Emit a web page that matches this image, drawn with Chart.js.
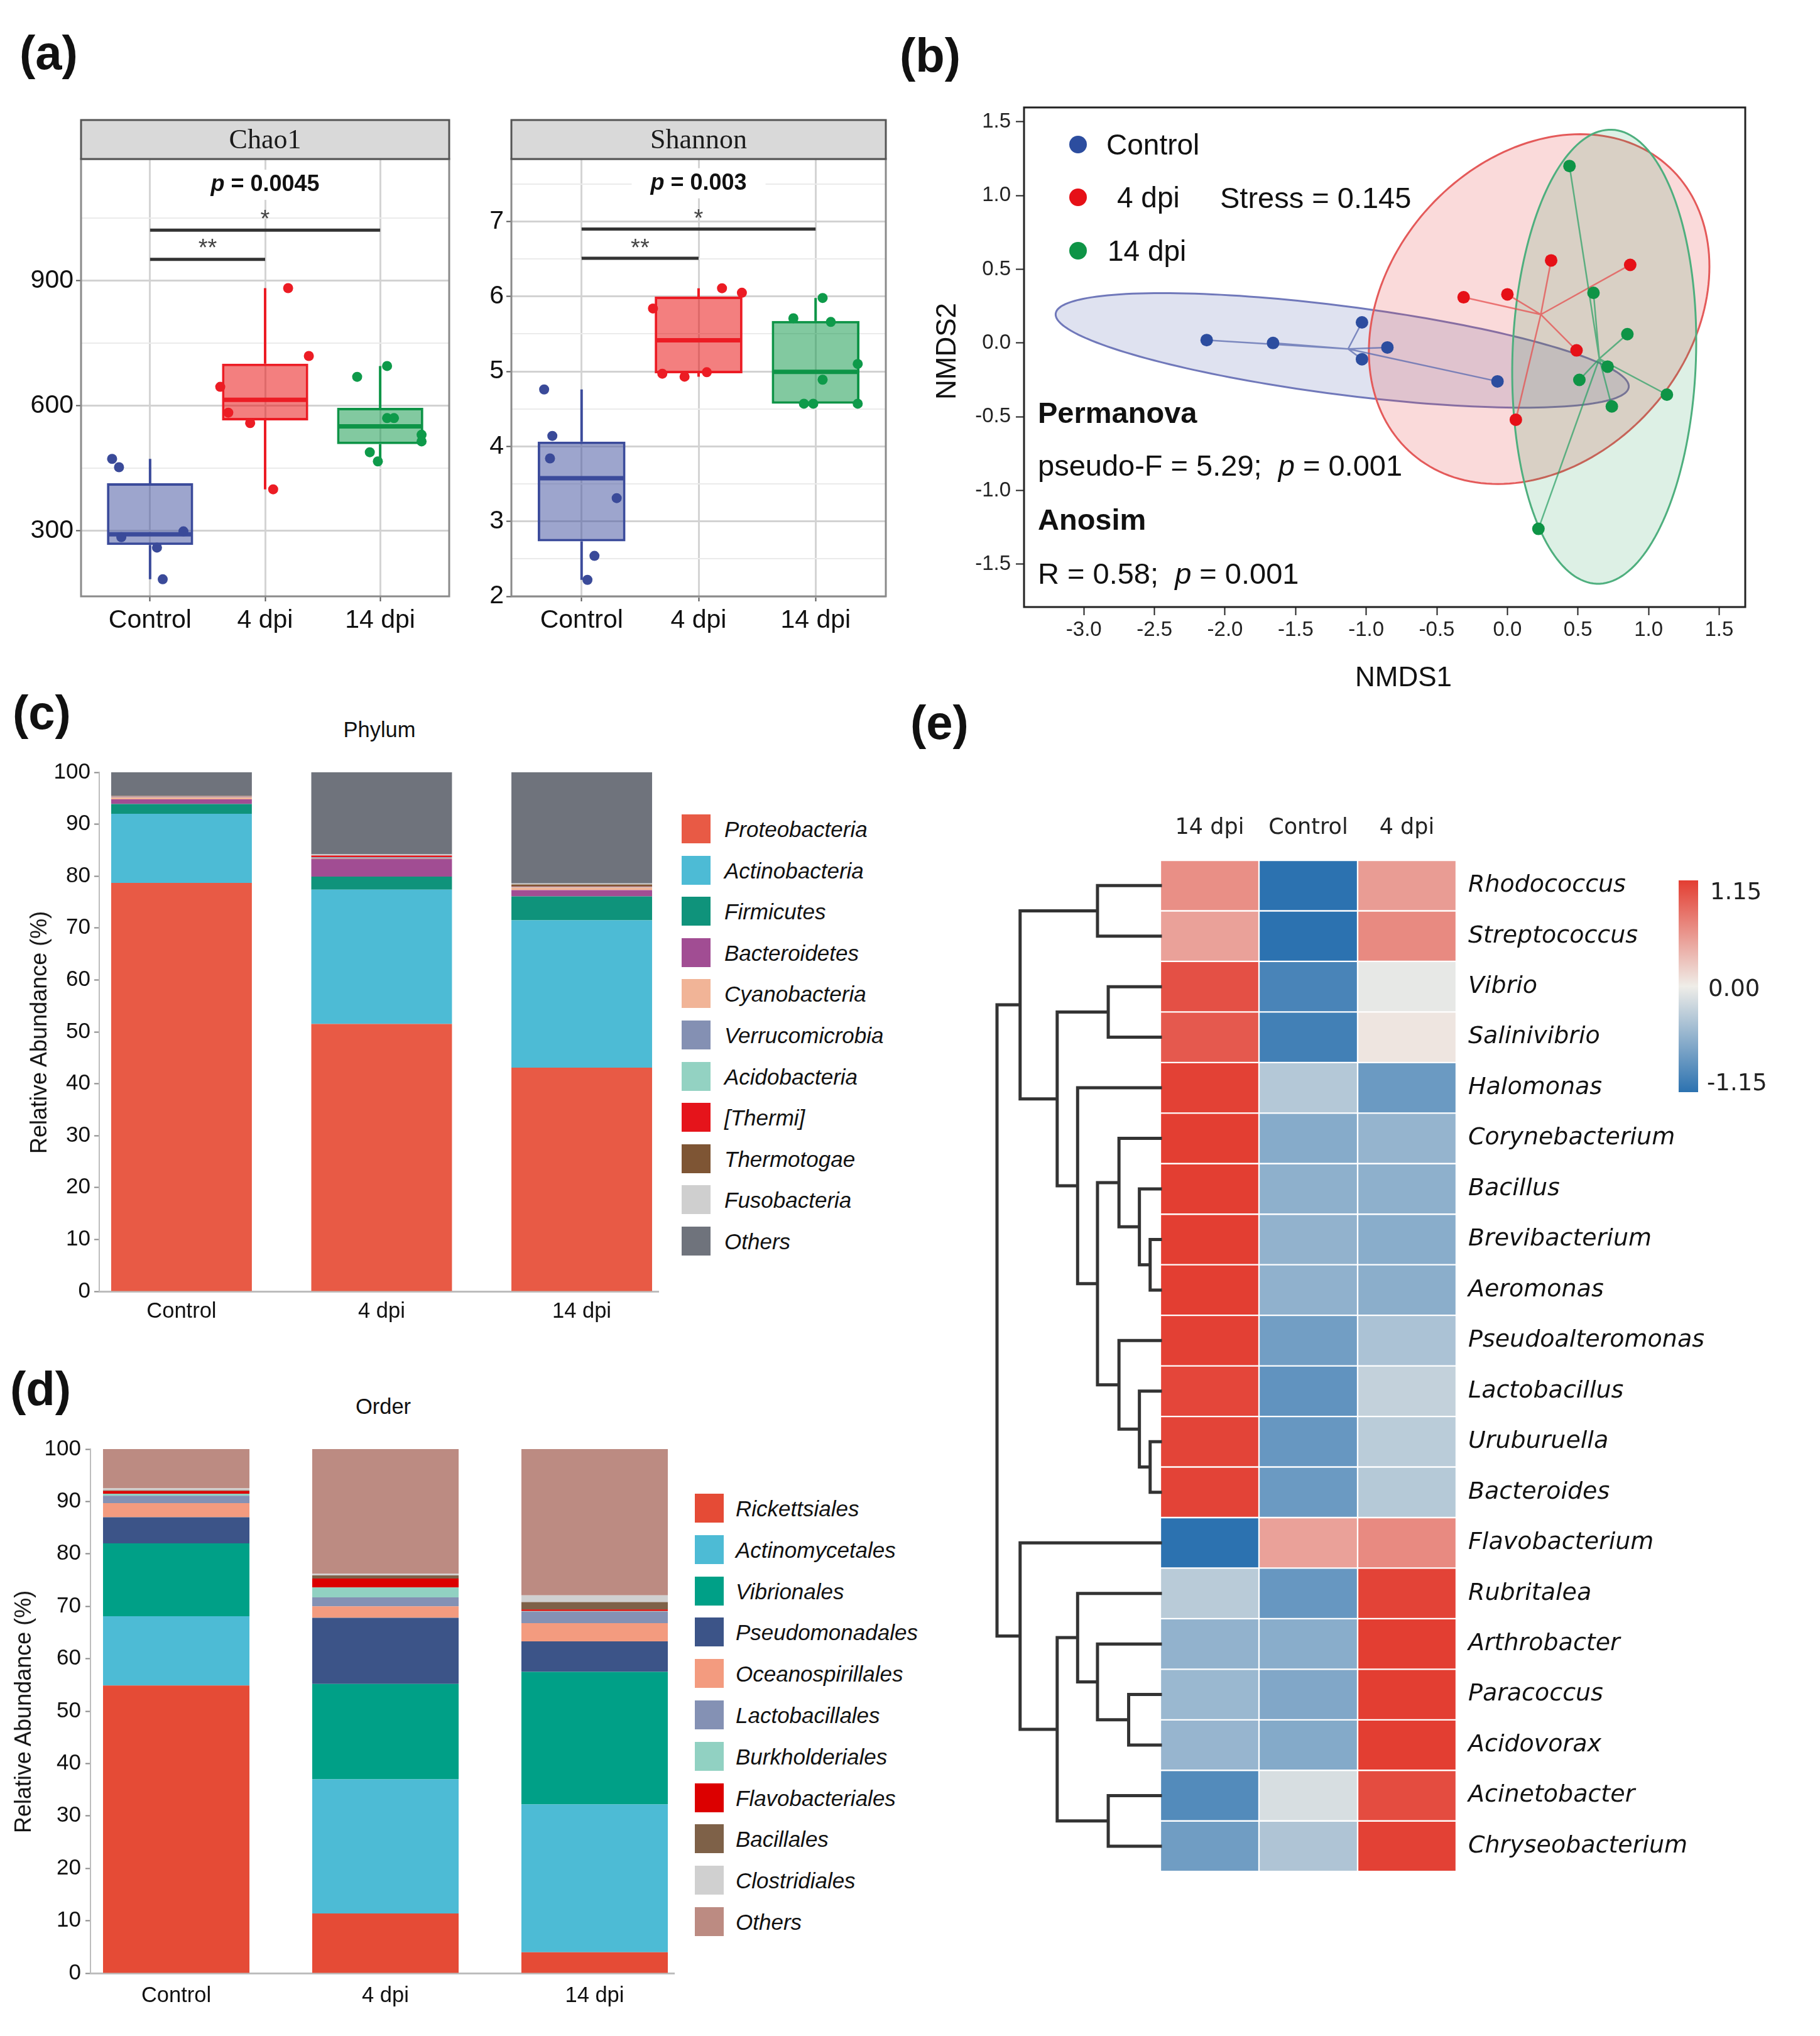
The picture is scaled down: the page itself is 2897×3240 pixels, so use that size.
<!DOCTYPE html>
<html>
<head>
<meta charset="utf-8">
<title>Diversity and composition</title>
<script src="https://cdn.jsdelivr.net/npm/chart.js@4.4.1/dist/chart.umd.min.js"></script>
<style>
  html, body { margin: 0; padding: 0; background: #fff; }
  body { position: relative; width: 2897px; height: 3240px; overflow: hidden; font-family: "Liberation Sans", Arial, sans-serif; color: #111; }
  canvas { position: absolute; }
  .t { position: absolute; white-space: nowrap; line-height: 1; }
</style>
</head>
<body>
<canvas id="chao1"></canvas>
<canvas id="shannon"></canvas>
<canvas id="nmds"></canvas>
<canvas id="phylum"></canvas>
<canvas id="order"></canvas>
<canvas id="heat"></canvas>
<script>
const groups = ["Control", "4 dpi", "14 dpi"];

// (a) alpha diversity per sample
const chao1Control = [472, 452, 284, 259, 183, 298];
const chao1Dpi4 = [882, 719, 645, 583, 558, 399];
const chao1Dpi14 = [669, 695, 570, 570, 530, 514, 488, 466];
const shannonControl = [4.76, 4.14, 3.84, 3.31, 2.54, 2.22];
const shannonDpi4 = [6.11, 6.05, 5.84, 4.97, 4.93, 4.99];
const shannonDpi14 = [5.98, 5.71, 5.66, 5.10, 4.89, 4.57, 4.57, 4.57];
const chao1Ticks = [300, 450, 600, 750, 900, 1050];
const shannonTicks = [2, 2.5, 3, 3.5, 4, 4.5, 5, 5.5, 6, 6.5, 7, 7.5];

// (b) NMDS scores
const nmdsControlX = [-2.13, -1.66, -1.03, -0.85, -1.03, -0.07];
const nmdsControlY = [0.02, 0.00, 0.14, -0.03, -0.11, -0.26];
const nmds4dpiX = [-0.31, 0.00, 0.31, 0.87, 0.49, 0.06];
const nmds4dpiY = [0.31, 0.33, 0.56, 0.53, -0.05, -0.52];
const nmds14dpiX = [0.44, 0.61, 0.85, 0.71, 0.51, 1.13, 0.74, 0.22];
const nmds14dpiY = [1.20, 0.34, 0.06, -0.16, -0.25, -0.35, -0.43, -1.26];
const nmdsXTicks = [-3.0, -2.5, -2.0, -1.5, -1.0, -0.5, 0.0, 0.5, 1.0, 1.5];
const nmdsYTicks = [-1.5, -1.0, -0.5, 0.0, 0.5, 1.0, 1.5];
// group ellipses: centre, semi-axes, rotation (degrees, data units)
const ellipseCx = [-1.17, 0.225, 0.686];
const ellipseCy = [-0.05, 0.23, -0.093];
const ellipseA = [2.045, 1.334, 1.54];
const ellipseB = [0.30, 1.04, 0.65];
const ellipseDeg = [-7, 43, 88];

// (c) phylum relative abundance (%)
const phylumNames = ["Proteobacteria", "Actinobacteria", "Firmicutes", "Bacteroidetes", "Cyanobacteria", "Verrucomicrobia", "Acidobacteria", "[Thermi]", "Thermotogae", "Fusobacteria", "Others"];
const phylumControl = [78.7, 13.3, 1.9, 0.9, 0.4, 0.1, 0.05, 0.05, 0.05, 0.05, 4.5];
const phylum4dpi = [51.5, 25.9, 2.5, 3.4, 0.1, 0.2, 0.05, 0.3, 0.05, 0.2, 15.8];
const phylum14dpi = [43.1, 28.4, 4.6, 1.2, 0.5, 0.1, 0.05, 0.05, 0.4, 0.2, 21.4];

// (d) order relative abundance (%)
const orderNames = ["Rickettsiales", "Actinomycetales", "Vibrionales", "Pseudomonadales", "Oceanospirillales", "Lactobacillales", "Burkholderiales", "Flavobacteriales", "Bacillales", "Clostridiales", "Others"];
const orderControl = [54.9, 13.2, 13.9, 5.0, 2.7, 1.4, 0.4, 0.5, 0.15, 0.35, 7.5];
const order4dpi = [11.4, 25.6, 18.2, 12.6, 2.2, 1.7, 1.9, 1.7, 0.6, 0.3, 23.8];
const order14dpi = [4.0, 28.2, 25.3, 5.8, 3.5, 2.2, 0.1, 0.3, 1.4, 1.3, 27.9];
const abundanceTicks = [0, 10, 20, 30, 40, 50, 60, 70, 80, 90, 100];

// (e) row-scaled abundance of genera
const genera = ["Rhodococcus", "Streptococcus", "Vibrio", "Salinivibrio", "Halomonas", "Corynebacterium", "Bacillus", "Brevibacterium", "Aeromonas", "Pseudoalteromonas", "Lactobacillus", "Uruburuella", "Bacteroides", "Flavobacterium", "Rubritalea", "Arthrobacter", "Paracoccus", "Acidovorax", "Acinetobacter", "Chryseobacterium"];
const heatCols = ["14 dpi", "Control", "4 dpi"];
const z14dpi = [0.62, 0.50, 1.03, 0.97, 1.13, 1.15, 1.15, 1.15, 1.15, 1.14, 1.10, 1.11, 1.12, -1.15, -0.32, -0.55, -0.50, -0.52, -0.92, -0.75];
const zControl = [-1.15, -1.15, -0.98, -1.02, -0.35, -0.62, -0.575, -0.55, -0.56, -0.74, -0.84, -0.80, -0.78, 0.50, -0.80, -0.60, -0.65, -0.63, -0.14, -0.38];
const z4dpi = [0.53, 0.65, -0.05, 0.05, -0.78, -0.53, -0.575, -0.60, -0.59, -0.40, -0.26, -0.31, -0.34, 0.65, 1.12, 1.15, 1.15, 1.15, 1.06, 1.13];
const zLimit = 1.15;
// row dendrogram, hclust style (negative = leaf row, positive = earlier merge)
const dendroMerge = [[-8, -9], [-12, -13], [-7, 1], [-11, 2], [-17, -18], [-6, 3], [-10, 4], [-3, -4], [-19, -20], [-1, -2], [6, 7], [-16, 5], [-5, 11], [-15, 12], [8, 13], [14, 9], [10, 15], [-14, 16], [17, 18]];
const dendroHeight = [19, 19, 39, 39, 59, 77, 77, 97, 97, 117, 117, 117, 154, 154, 192, 192, 261, 261, 304];

// jitter of the points in (a)
const chao1Jitter = [
  [-0.33, -0.27, -0.25, 0.06, 0.11, 0.29],
  [0.20, 0.38, -0.39, -0.32, -0.13, 0.07],
  [-0.20, 0.06, 0.06, 0.12, 0.36, 0.36, -0.09, -0.02]
];
const shannonJitter = [
  [-0.32, -0.25, -0.27, 0.30, 0.11, 0.05],
  [0.20, 0.37, -0.39, -0.31, -0.12, 0.07],
  [0.06, -0.19, 0.13, 0.36, 0.06, -0.10, -0.02, 0.36]
];

Chart.defaults.font.family = '"Liberation Sans", Arial, sans-serif';
Chart.defaults.color = "#111";

const boxFill = ["rgba(60,76,156,0.5)", "rgba(232,0,0,0.5)", "rgba(5,147,65,0.5)"];
const boxLine = ["#3B4B9B", "#EC1C24", "#0E9447"];
const dotColor = ["#3A4A99", "#EC1C24", "#0E9A4A"];
const nmdsColor = ["#2C4D9F", "#E61017", "#0E9446"];
const ellipseFill = ["rgba(42,62,155,0.15)", "rgba(230,70,70,0.2)", "rgba(28,155,82,0.15)"];
const ellipseLine = ["#7078BA", "#E45A5A", "#4EAF7E"];
const spiderColor = ["rgba(90,105,175,0.75)", "rgba(230,80,80,0.75)", "rgba(40,160,100,0.7)"];
const phylumColors = ["#E85A45", "#4DBBD5", "#0F937B", "#A14D93", "#F1B497", "#8490B3", "#93D2C2", "#E5141B", "#7E5534", "#CFCFCF", "#6F737C"];
const orderColors = ["#E54B36", "#4DBBD5", "#00A087", "#3C5488", "#F39B7F", "#8491B4", "#91D1C2", "#DC0000", "#7E6148", "#D0D0D0", "#BC8B82"];

function place(canvas, r) {
  canvas.width = r.w; canvas.height = r.h;
  canvas.style.left = r.x + "px"; canvas.style.top = r.y + "px";
  canvas.style.width = r.w + "px"; canvas.style.height = r.h + "px";
}

function text(html, x, y, css, anchor, rotate) {
  const d = document.createElement("div");
  d.className = "t";
  d.innerHTML = html;
  d.style.left = x + "px";
  d.style.top = y + "px";
  Object.assign(d.style, css || {});
  const tx = anchor === "center" ? "-50%" : anchor === "right" ? "-100%" : "0";
  d.style.transform = `translate(${tx}, -50%)` + (rotate ? ` rotate(${rotate}deg)` : "");
  document.body.appendChild(d);
}

function quantile(arr, p) {
  const s = [...arr].sort((a, b) => a - b);
  const h = (s.length - 1) * p, lo = Math.floor(h);
  return s[lo] + (h - lo) * (s[Math.min(lo + 1, s.length - 1)] - s[lo]);
}

function boxStats(arr) {
  const q1 = quantile(arr, 0.25), med = quantile(arr, 0.5), q3 = quantile(arr, 0.75);
  const iqr = q3 - q1;
  const inside = arr.filter(v => v >= q1 - 1.5 * iqr && v <= q3 + 1.5 * iqr);
  return { q1, med, q3, lo: Math.min(...inside), hi: Math.max(...inside) };
}

const mean = a => a.reduce((s, v) => s + v, 0) / a.length;

// ---------- (a) box plots ----------
function boxChart(id, rect, area, series, jitter, yMin, yMax, ticks, major, strip, sig) {
  const cv = document.getElementById(id);
  place(cv, rect);
  const stats = series.map(boxStats);
  const isMajor = v => Math.abs(v / major - Math.round(v / major)) < 1e-6;

  const datasets = [{
    type: "bar",
    data: stats.map((s, i) => ({ x: i + 1, y: [s.q1, s.q3] })),
    backgroundColor: boxFill,
    borderColor: boxLine,
    borderWidth: 4,
    borderSkipped: false,
    barPercentage: 0.75,
    categoryPercentage: 1,
    order: 2
  }];
  series.forEach((vals, g) => datasets.push({
    type: "scatter",
    data: vals.map((v, k) => ({ x: g + 1 + jitter[g][k], y: v })),
    pointRadius: 8,
    pointBackgroundColor: dotColor[g],
    pointBorderWidth: 0,
    order: 1
  }));

  const extras = {
    id: "boxExtras",
    afterDatasetDraw(chart, args) {
      if (args.index !== 0) return;
      const ctx = chart.ctx, y = chart.scales.y;
      args.meta.data.forEach((bar, i) => {
        const s = stats[i];
        ctx.save();
        ctx.strokeStyle = boxLine[i];
        ctx.lineWidth = 4;
        ctx.beginPath();
        ctx.moveTo(bar.x, y.getPixelForValue(s.q3));
        ctx.lineTo(bar.x, y.getPixelForValue(s.hi));
        ctx.moveTo(bar.x, y.getPixelForValue(s.q1));
        ctx.lineTo(bar.x, y.getPixelForValue(s.lo));
        ctx.stroke();
        ctx.lineWidth = 7;
        ctx.beginPath();
        ctx.moveTo(bar.x - bar.width / 2 + 2, y.getPixelForValue(s.med));
        ctx.lineTo(bar.x + bar.width / 2 - 2, y.getPixelForValue(s.med));
        ctx.stroke();
        ctx.restore();
      });
    },
    afterDraw(chart) {
      const { ctx, chartArea: a, scales: { x, y } } = chart;
      ctx.save();
      // panel border and strip
      ctx.strokeStyle = "#8A8A8A";
      ctx.lineWidth = 3;
      ctx.strokeRect(a.left, a.top, a.right - a.left, a.bottom - a.top);
      ctx.fillStyle = "#D9D9D9";
      ctx.fillRect(a.left, a.top - 62, a.right - a.left, 62);
      ctx.strokeStyle = "#555";
      ctx.strokeRect(a.left, a.top - 62, a.right - a.left, 62);
      ctx.fillStyle = "#1A1A1A";
      ctx.font = '44px "Liberation Serif", "Times New Roman", serif';
      ctx.textAlign = "center";
      ctx.textBaseline = "middle";
      ctx.fillText(strip, (a.left + a.right) / 2, a.top - 29);

      // significance brackets
      ctx.strokeStyle = "#333";
      ctx.lineWidth = 5;
      ctx.beginPath();
      ctx.moveTo(x.getPixelForValue(1), y.getPixelForValue(sig.bar1));
      ctx.lineTo(x.getPixelForValue(3), y.getPixelForValue(sig.bar1));
      ctx.moveTo(x.getPixelForValue(1), y.getPixelForValue(sig.bar2));
      ctx.lineTo(x.getPixelForValue(2), y.getPixelForValue(sig.bar2));
      ctx.stroke();
      ctx.fillStyle = "#444";
      ctx.font = '38px "Liberation Sans", Arial, sans-serif';
      ctx.textBaseline = "alphabetic";
      ctx.fillText("*", x.getPixelForValue(2), y.getPixelForValue(sig.star1) + 21);
      ctx.fillText("**", x.getPixelForValue(1.5), y.getPixelForValue(sig.star2) + 21);

      // p value label
      const px = x.getPixelForValue(2), py = y.getPixelForValue(sig.pAt);
      ctx.font = 'italic bold 36px "Liberation Sans", Arial, sans-serif';
      const wp = ctx.measureText("p").width;
      ctx.font = 'bold 36px "Liberation Sans", Arial, sans-serif';
      const rest = " = " + sig.p;
      const wr = ctx.measureText(rest).width;
      const left = px - (wp + wr) / 2;
      ctx.fillStyle = "#fff";
      ctx.fillRect(left - 30, py - 24, wp + wr + 60, 48);
      ctx.fillStyle = "#111";
      ctx.textAlign = "left";
      ctx.textBaseline = "middle";
      ctx.font = 'italic bold 36px "Liberation Sans", Arial, sans-serif';
      ctx.fillText("p", left, py);
      ctx.font = 'bold 36px "Liberation Sans", Arial, sans-serif';
      ctx.fillText(rest, left + wp, py);
      ctx.restore();
    }
  };

  new Chart(cv, {
    type: "bar",
    data: { datasets },
    options: {
      responsive: false,
      animation: false,
      layout: { padding: { left: 0, bottom: 0, top: area.top - rect.y, right: rect.x + rect.w - area.right } },
      plugins: { legend: { display: false }, tooltip: { enabled: false } },
      scales: {
        x: {
          type: "linear", min: 0.4, max: 3.6, offset: false,
          afterBuildTicks: s => { s.ticks = [1, 2, 3].map(v => ({ value: v })); },
          afterFit: s => { s.height = rect.y + rect.h - area.bottom; },
          ticks: { callback: v => groups[v - 1], font: { size: 41 }, color: "#111", padding: 6, maxRotation: 0, autoSkip: false },
          grid: { offset: false, color: "#D4D4D4", lineWidth: 3, tickLength: 8, tickColor: "#555", tickWidth: 2 },
          border: { display: false }
        },
        y: {
          type: "linear", min: yMin, max: yMax, beginAtZero: false,
          afterBuildTicks: s => { s.ticks = ticks.map(v => ({ value: v })); },
          afterFit: s => { s.width = area.left - rect.x; },
          ticks: { callback: v => isMajor(v) ? String(v) : "", font: { size: 41 }, color: "#111", padding: 4, autoSkip: false },
          grid: {
            color: c => isMajor(c.tick.value) ? "#D2D2D2" : "#EBEBEB",
            lineWidth: c => isMajor(c.tick.value) ? 3 : 2,
            tickLength: 8,
            tickColor: c => isMajor(c.tick.value) ? "#555" : "rgba(0,0,0,0)",
            tickWidth: 2
          },
          border: { display: false }
        }
      }
    },
    plugins: [extras]
  });
}

boxChart("chao1", { x: 0, y: 150, w: 745, h: 880 }, { left: 129, top: 253, right: 715, bottom: 949 },
  [chao1Control, chao1Dpi4, chao1Dpi14], chao1Jitter, 142, 1192, chao1Ticks, 300, "Chao1",
  { p: "0.0045", pAt: 1130, star1: 1061, bar1: 1021, star2: 992, bar2: 951 });

boxChart("shannon", { x: 745, y: 150, w: 700, h: 880 }, { left: 814, top: 253, right: 1410, bottom: 949 },
  [shannonControl, shannonDpi4, shannonDpi14], shannonJitter, 2.0, 7.834, shannonTicks, 1, "Shannon",
  { p: "0.003", pAt: 7.51, star1: 7.11, bar1: 6.90, star2: 6.72, bar2: 6.51 });

// ---------- (b) NMDS ----------
(() => {
  const rect = { x: 1460, y: 120, w: 1437, h: 1000 };
  const area = { left: 1630, top: 171, right: 2778, bottom: 966 };
  const cv = document.getElementById("nmds");
  place(cv, rect);
  const xs = [nmdsControlX, nmds4dpiX, nmds14dpiX];
  const ys = [nmdsControlY, nmds4dpiY, nmds14dpiY];

  const extras = {
    id: "nmdsExtras",
    beforeDatasetsDraw(chart) {
      const { ctx, scales: { x, y } } = chart;
      ctx.save();
      ellipseCx.forEach((cx, g) => {
        const th = ellipseDeg[g] * Math.PI / 180;
        ctx.beginPath();
        for (let k = 0; k <= 180; k++) {
          const t = k / 180 * 2 * Math.PI;
          const ex = cx + ellipseA[g] * Math.cos(t) * Math.cos(th) - ellipseB[g] * Math.sin(t) * Math.sin(th);
          const ey = ellipseCy[g] + ellipseA[g] * Math.cos(t) * Math.sin(th) + ellipseB[g] * Math.sin(t) * Math.cos(th);
          const px = x.getPixelForValue(ex), py = y.getPixelForValue(ey);
          if (k === 0) ctx.moveTo(px, py); else ctx.lineTo(px, py);
        }
        ctx.closePath();
        ctx.fillStyle = ellipseFill[g];
        ctx.fill();
        ctx.strokeStyle = ellipseLine[g];
        ctx.lineWidth = 3;
        ctx.stroke();
      });
      // spider lines to group centroids
      xs.forEach((gx, g) => {
        const cx = x.getPixelForValue(mean(gx)), cy = y.getPixelForValue(mean(ys[g]));
        ctx.strokeStyle = spiderColor[g];
        ctx.lineWidth = 2.5;
        ctx.beginPath();
        gx.forEach((v, k) => {
          ctx.moveTo(cx, cy);
          ctx.lineTo(x.getPixelForValue(v), y.getPixelForValue(ys[g][k]));
        });
        ctx.stroke();
      });
      ctx.restore();
    },
    afterDraw(chart) {
      const { ctx, chartArea: a } = chart;
      ctx.save();
      ctx.strokeStyle = "#222";
      ctx.lineWidth = 3;
      ctx.strokeRect(a.left, a.top, a.right - a.left, a.bottom - a.top);
      ctx.restore();
    }
  };

  new Chart(cv, {
    type: "scatter",
    data: {
      datasets: xs.map((gx, g) => ({
        label: groups[g],
        data: gx.map((v, k) => ({ x: v, y: ys[g][k] })),
        pointRadius: 10,
        pointBackgroundColor: nmdsColor[g],
        pointBorderWidth: 0
      }))
    },
    options: {
      responsive: false,
      animation: false,
      layout: { padding: { left: 0, bottom: 0, top: area.top - rect.y, right: rect.x + rect.w - area.right } },
      plugins: { legend: { display: false }, tooltip: { enabled: false } },
      scales: {
        x: {
          type: "linear", min: -3.424, max: 1.685,
          afterBuildTicks: s => { s.ticks = nmdsXTicks.map(v => ({ value: v })); },
          afterFit: s => { s.height = rect.y + rect.h - area.bottom; },
          ticks: { callback: v => v.toFixed(1), font: { size: 33 }, color: "#222", padding: 4, maxRotation: 0, autoSkip: false },
          grid: { drawOnChartArea: false, tickLength: 13, tickColor: "#222", tickWidth: 2 },
          border: { display: false }
        },
        y: {
          type: "linear", min: -1.79, max: 1.597,
          afterBuildTicks: s => { s.ticks = nmdsYTicks.map(v => ({ value: v })); },
          afterFit: s => { s.width = area.left - rect.x; },
          ticks: { callback: v => v.toFixed(1), font: { size: 33 }, color: "#222", padding: 8, autoSkip: false },
          grid: { drawOnChartArea: false, tickLength: 13, tickColor: "#222", tickWidth: 2 },
          border: { display: false }
        }
      }
    },
    plugins: [extras]
  });
})();

// ---------- (c) and (d) stacked bars ----------
function stackChart(id, rect, area, names, colors, cols, xMin, xMax, barPct, xPad, yPad) {
  const cv = document.getElementById(id);
  place(cv, rect);
  new Chart(cv, {
    type: "bar",
    data: {
      datasets: names.map((name, i) => ({
        label: name,
        data: cols.map((c, j) => ({ x: j, y: c[i] })),
        backgroundColor: colors[i],
        borderWidth: 0,
        barPercentage: barPct,
        categoryPercentage: 1
      }))
    },
    options: {
      responsive: false,
      animation: false,
      layout: { padding: { left: 0, bottom: 0, top: area.top - rect.y, right: rect.x + rect.w - area.right } },
      plugins: { legend: { display: false }, tooltip: { enabled: false } },
      scales: {
        x: {
          type: "linear", stacked: true, min: xMin, max: xMax, offset: false,
          afterBuildTicks: s => { s.ticks = [0, 1, 2].map(v => ({ value: v })); },
          afterFit: s => { s.height = rect.y + rect.h - area.bottom; },
          ticks: { callback: v => groups[v], font: { size: 34.5 }, color: "#111", padding: xPad, maxRotation: 0, autoSkip: false },
          grid: { display: false, drawTicks: false, offset: false },
          border: { display: true, color: "#BDBDBD", width: 3 }
        },
        y: {
          type: "linear", stacked: true, min: 0, max: 100,
          afterBuildTicks: s => { s.ticks = abundanceTicks.map(v => ({ value: v })); },
          afterFit: s => { s.width = area.left - rect.x; },
          ticks: { font: { size: 35 }, color: "#111", padding: yPad, autoSkip: false },
          grid: { drawOnChartArea: false, tickLength: 8, tickColor: "#888", tickWidth: 2 },
          border: { display: true, color: "#BDBDBD", width: 2 }
        }
      }
    }
  });
}

stackChart("phylum", { x: 0, y: 1180, w: 1075, h: 950 }, { left: 158, top: 1229, right: 1048, bottom: 2055 },
  phylumNames, phylumColors, [phylumControl, phylum4dpi, phylum14dpi], -0.411, 2.383, 0.703, 12, 6);
stackChart("order", { x: 0, y: 2260, w: 1095, h: 980 }, { left: 144, top: 2306, right: 1073, bottom: 3140 },
  orderNames, orderColors, [orderControl, order4dpi, order14dpi], -0.41, 2.38, 0.70, 16, 7);

// ---------- (e) heatmap with row dendrogram ----------
function zColor(z) {
  const lo = [44, 114, 176], mid = [239, 237, 232], hi = [227, 62, 50];
  const t = Math.max(-1, Math.min(1, z / zLimit));
  const end = t < 0 ? lo : hi, f = Math.abs(t);
  return `rgb(${mid.map((m, k) => Math.round(m + (end[k] - m) * f)).join(",")})`;
}

(() => {
  const rect = { x: 1560, y: 1260, w: 1337, h: 1760 };
  const area = { left: 1847, top: 1369, right: 2318, bottom: 2990 };
  const cv = document.getElementById("heat");
  place(cv, rect);
  const zCols = [z14dpi, zControl, z4dpi];
  const dendroWidth = 260;

  const dendro = {
    id: "dendro",
    afterDraw(chart) {
      const { ctx, chartArea: a, scales: { y } } = chart;
      const hMax = Math.max(...dendroHeight);
      const nodes = [];
      const pos = id => id < 0 ? { x: a.left, y: y.getPixelForValue(-id - 1) } : nodes[id - 1];
      ctx.save();
      ctx.strokeStyle = "#333";
      ctx.lineWidth = 5;
      ctx.lineCap = "square";
      ctx.beginPath();
      dendroMerge.forEach((m, k) => {
        const p = pos(m[0]), q = pos(m[1]);
        const nx = a.left - dendroHeight[k] / hMax * dendroWidth;
        ctx.moveTo(p.x, p.y); ctx.lineTo(nx, p.y);
        ctx.lineTo(nx, q.y); ctx.lineTo(q.x, q.y);
        nodes.push({ x: nx, y: (p.y + q.y) / 2 });
      });
      ctx.stroke();
      ctx.restore();
    }
  };

  new Chart(cv, {
    type: "bar",
    data: {
      labels: genera,
      datasets: heatCols.map((c, j) => ({
        label: c,
        data: genera.map(() => 1),
        backgroundColor: zCols[j].map(zColor),
        borderColor: "#fff",
        borderWidth: 1.5,
        borderSkipped: false,
        barPercentage: 1,
        categoryPercentage: 1
      }))
    },
    options: {
      indexAxis: "y",
      responsive: false,
      animation: false,
      layout: { padding: { left: area.left - rect.x, top: 0, right: 0, bottom: rect.y + rect.h - area.bottom } },
      plugins: { legend: { display: false }, tooltip: { enabled: false } },
      scales: {
        x: {
          type: "linear", position: "top", stacked: true, min: 0, max: 3,
          afterBuildTicks: s => { s.ticks = [0.5, 1.5, 2.5].map(v => ({ value: v })); },
          afterFit: s => { s.height = area.top - rect.y; },
          ticks: { callback: v => heatCols[Math.floor(v)], font: { family: '"DejaVu Sans", sans-serif', size: 35 }, color: "#222", padding: 30, maxRotation: 0, autoSkip: false },
          grid: { display: false, drawTicks: false },
          border: { display: false }
        },
        y: {
          position: "right", stacked: true,
          afterFit: s => { s.width = rect.x + rect.w - area.right; },
          ticks: { font: { family: '"DejaVu Sans", sans-serif', size: 38, style: "italic" }, color: "#111", padding: 19, autoSkip: false },
          grid: { display: false, drawTicks: false },
          border: { display: false }
        }
      }
    },
    plugins: [dendro]
  });
})();

// ---------- text, legends ----------
const panelCss = { fontWeight: "bold", fontSize: "76px" };
text("(a)", 31, 84, panelCss);
text("(b)", 1432, 88, panelCss);
text("(c)", 20, 1134, panelCss);
text("(d)", 16, 2210, panelCss);
text("(e)", 1449, 1150, panelCss);

// (b) legend and statistics
const legendY = [230, 314, 399];
const legendX = [1761, 1778, 1763];
groups.forEach((g, i) => {
  const dot = document.createElement("div");
  Object.assign(dot.style, { position: "absolute", left: (1716 - 14) + "px", top: (legendY[i] - 14) + "px", width: "28px", height: "28px", borderRadius: "50%", background: nmdsColor[i] });
  document.body.appendChild(dot);
  text(g, legendX[i], legendY[i], { fontSize: "46px" });
});
text("Stress = 0.145", 1942, 314, { fontSize: "47px" });
text("Permanova", 1652, 656, { fontSize: "47px", fontWeight: "bold" });
text("pseudo-F = 5.29;&nbsp; <i>p</i> = 0.001", 1652, 740, { fontSize: "47px" });
text("Anosim", 1652, 826, { fontSize: "47px", fontWeight: "bold" });
text("R = 0.58;&nbsp; <i>p</i> = 0.001", 1652, 912, { fontSize: "47px" });
text("NMDS1", 2234, 1077, { fontSize: "44px" }, "center");
text("NMDS2", 1506, 559, { fontSize: "44px" }, "center", -90);

// (c), (d) titles and legends
text("Phylum", 604, 1161, { fontSize: "34.5px" }, "center");
text("Relative Abundance (%)", 62, 1643, { fontSize: "36px" }, "center", -90);
text("Order", 610, 2238, { fontSize: "34.5px" }, "center");
text("Relative Abundance (%)", 37, 2724, { fontSize: "36px" }, "center", -90);

function swatchLegend(names, colors, sx, tx, y0, step) {
  names.forEach((n, i) => {
    const y = y0 + i * step;
    const sw = document.createElement("div");
    Object.assign(sw.style, { position: "absolute", left: sx + "px", top: (y - 23) + "px", width: "46px", height: "46px", background: colors[i] });
    document.body.appendChild(sw);
    text(n, tx, y, { fontSize: "35px", fontStyle: "italic" });
  });
}
swatchLegend(phylumNames, phylumColors, 1085, 1153, 1319, 65.6);
swatchLegend(orderNames, orderColors, 1106, 1171, 2400, 65.8);

// (e) colour key
const key = document.createElement("div");
Object.assign(key.style, {
  position: "absolute", left: "2672px", top: "1401px", width: "31px", height: "337px",
  background: `linear-gradient(to bottom, ${zColor(zLimit)} 0%, ${zColor(0)} 50%, ${zColor(-zLimit)} 100%)`
});
document.body.appendChild(key);
const keyCss = { fontSize: "37px", fontFamily: '"DejaVu Sans", sans-serif', color: "#222" };
text(zLimit.toFixed(2), 2722, 1418, keyCss);
text("0.00", 2719, 1572, keyCss);
text((-zLimit).toFixed(2), 2717, 1722, keyCss);
</script>
</body>
</html>
